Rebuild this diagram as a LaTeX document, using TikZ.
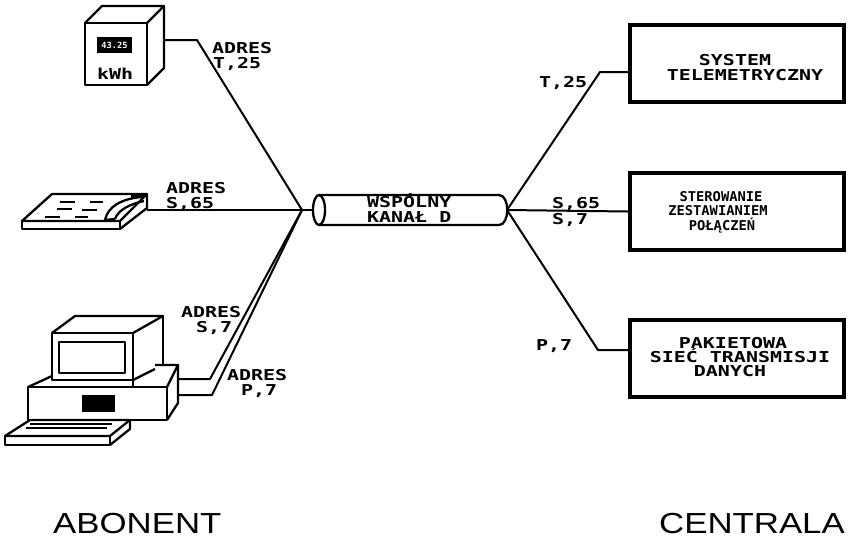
\documentclass[tikz,border=0pt]{standalone}
\usepackage{fontspec}
\newfontfamily\labfont[FakeStretch=1.33]{DejaVu Sans Mono}
\newfontfamily\labnarrow[FakeStretch=1.02]{DejaVu Sans Mono}
\newfontfamily\bigfont[FakeStretch=1.2]{Liberation Sans}
\begin{document}
\begin{tikzpicture}[x=1pt,y=-1pt,
  lab/.style={font=\labfont\bfseries\fontsize{15}{16}\selectfont, inner sep=0pt, anchor=base west},
  labc/.style={lab, anchor=base},
  labn/.style={font=\labnarrow\bfseries\fontsize{13.5}{14}\selectfont, inner sep=0pt, anchor=base},
  title/.style={font=\bigfont\fontsize{29}{30}\selectfont, inner sep=0pt},
  conn/.style={line width=2pt, line join=round},
  dev/.style={line width=2.3pt, line join=round},
  unit/.style={draw, line width=4pt, minimum width=214pt, minimum height=77pt, inner sep=0pt}]
\useasboundingbox (0,0) rectangle (848,539);

% --- electricity meter ---
\draw[dev] (85,23) rectangle (147,85);
\draw[dev] (85,23) -- (102,6) -- (164,6) -- (147,23);
\draw[dev] (164,6) -- (164,68) -- (147,85);
\fill (97,37) rectangle (132,53);
\node[text=white, font=\labnarrow\bfseries\fontsize{8.5}{9}\selectfont, inner sep=0pt] (display) at (114.5,45) {43.25};
\node[lab] (kwh) at (97,79) {kWh};
\coordinate (meterport) at (164,40);

% --- telefax ---
\draw[dev] (52,194) -- (147,194) -- (120,221) -- (22,221) -- cycle;
\draw[dev] (22,221) -- (22,229) -- (120,229) -- (120,221);
\draw[dev] (147,194) -- (147,208) -- (120,229);
\draw[line width=1.6pt] (60,202)--(75,202) (90,202)--(103,202) (57,209)--(72,209)
  (82,210)--(97,210) (45,217)--(60,217) (75,217)--(88,217);
\draw[dev] (105,220) .. controls (108,206) and (122,199) .. (141,197);
\draw[dev] (115,219) .. controls (118,210) and (130,204) .. (144,201);
\draw[dev] (105,220) -- (115,219);
\fill (131,194) rectangle (145,198);
\coordinate (faxport) at (147,210);

% --- personal computer ---
\draw[dev] (52,333) rectangle (133,380);
\draw[dev] (52,333) -- (75,316) -- (163,316) -- (133,333);
\draw[dev] (163,316) -- (163,365);
\draw[dev] (133,380) -- (155,369);
\draw[dev] (59,342) rectangle (125,373);
\draw[dev] (28,387) rectangle (167,420);
\draw[dev] (28,387) -- (52,376);
\draw[dev] (133,380) -- (133,387);
\draw[dev] (167,387) -- (178,365) -- (155,365);
\draw[dev] (178,365) -- (178,403) -- (167,420);
\fill (82,395) rectangle (115,412);
\draw[dev] (5,436) -- (30,420) -- (130,420) -- (110,436) -- cycle;
\draw[dev] (5,436) -- (5,445) -- (110,445) -- (110,436);
\draw[dev] (110,445) -- (130,429) -- (130,420);
\draw[line width=1.6pt] (30,424) -- (112,424) (26,428) -- (107,428);
\draw[line width=2.8pt] (32,424) -- (46,424);
\coordinate (pcA) at (178,379);
\coordinate (pcB) at (178,395);

% --- common D channel ---
\coordinate (hubL) at (302,210);
\coordinate (hubR) at (507,210);
\coordinate (pipeL) at (313,210);
\draw[dev] (319,210) ellipse [x radius=6, y radius=15];
\draw[dev] (319,195) -- (499,195) .. controls (510,195) and (510,225) .. (499,225) -- (319,225);
\node[lab] (pipe1) at (367,207) {WSPÓLNY};
\node[lab] (pipe2) at (367,222) {KANAŁ D};

% --- exchange units ---
\node[unit] (sys) at (737,63.5) {};
\node[unit] (ster) at (737,211.5) {};
\node[unit] (pak) at (737,358.5) {};
\node[labc] (sys1) at (735,65) {SYSTEM};
\node[labc] (sys2) at (745,80) {TELEMETRYCZNY};
\node[labn] (ster1) at (721,201) {STEROWANIE};
\node[labn] (ster2) at (718,215.5) {ZESTAWIANIEM};
\node[labn] (ster3) at (722,230) {POŁĄCZEŃ};
\node[labc] (pak1) at (733,348) {PAKIETOWA};
\node[labc] (pak2) at (740,362) {SIEĆ TRANSMISJI};
\node[labc] (pak3) at (730,376) {DANYCH};
\coordinate (sysport) at (630,72);
\coordinate (pakport) at (629,350);

% --- connectors ---
\draw[conn] (meterport) -- (197,40) -- (hubL);
\draw[conn] (faxport) -- (hubL);
\draw[conn] (pcA) -- (210,379) -- (hubL);
\draw[conn] (pcB) -- (212,395) -- (hubL);
\draw[conn] (hubL) -- (pipeL);
\draw[conn] (hubR) -- (600,72) -- (sysport);
\draw[conn] (hubR) -- (ster.west);
\draw[conn] (hubR) -- (598,350) -- (pakport);

% --- address labels ---
\node[lab] (a1) at (212,53) {ADRES};
\node[lab] (a1n) at (213,68) {T,25};
\node[lab] (a2) at (166,193) {ADRES};
\node[lab] (a2n) at (166,208) {S,65};
\node[lab] (a3) at (181,317) {ADRES};
\node[lab] (a3n) at (196,332) {S,7};
\node[lab] (a4) at (227,380) {ADRES};
\node[lab] (a4n) at (241,395) {P,7};
\node[lab] (r1) at (539,87) {T,25};
\node[lab] (r2) at (552,208) {S,65};
\node[lab] (r3) at (552,224) {S,7};
\node[lab] (r4) at (536,350) {P,7};

% --- sides ---
\node[title, anchor=base west] (abonent) at (53,533) {ABONENT};
\node[title, anchor=base east] (centrala) at (845,533) {CENTRALA};
\end{tikzpicture}
\end{document}
